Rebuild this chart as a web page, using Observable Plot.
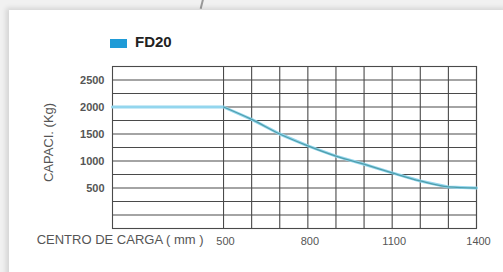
<!DOCTYPE html>
<html>
<head>
<meta charset="utf-8">
<script src="https://cdn.jsdelivr.net/npm/d3@7"></script>
<script src="https://cdn.jsdelivr.net/npm/@observablehq/plot@0.6"></script>
<style>
  html, body { margin: 0; padding: 0; width: 503px; height: 272px; overflow: hidden; background: #f1f1f1; }
  #wrap { position: relative; width: 503px; height: 272px; }
  #card { position: absolute; left: 9px; top: 10px; width: 500px; height: 270px; background: #fff;
          box-shadow: -3px -2px 5px rgba(0,0,0,0.12); }
  #slash { position: absolute; left: 201px; top: -2px; width: 2px; height: 11px; background: #9a9a9a; transform: rotate(14deg); }
  #legend { position: absolute; left: 110px; top: 33px; font-family: "Liberation Sans", Arial, sans-serif;
            font-weight: bold; font-size: 15px; color: #222; display: flex; align-items: center; }
  #legend .sw { width: 17px; height: 9px; background: #1f9bd7; margin-right: 8px; margin-top: 3px; }
  #chart { position: absolute; left: 0; top: 0; }
</style>
</head>
<body>
<div id="wrap">
  <div id="slash"></div>
  <div id="card"></div>
  <div id="legend"><div class="sw"></div><span>FD20</span></div>
  <div id="chart"></div>
</div>
<script>
// Data
const seriesName = "FD20";
const loadCenter = [105, 500, 600, 700, 800, 900, 1000, 1100, 1200, 1300, 1400];
const capacity   = [2000, 2000, 1770, 1500, 1280, 1090, 940, 780, 630, 520, 500];
const yTickLabels = [500, 1000, 1500, 2000, 2500];
const xTickLabels = [500, 800, 1100, 1400];
const xGrid = [500, 600, 700, 800, 900, 1000, 1100, 1200, 1300, 1400];
const yGrid = [-250, 0, 250, 500, 750, 1000, 1250, 1500, 1750, 2000, 2250, 2500, 2750];
const xLabel = "CENTRO DE CARGA ( mm )";
const yLabel = "CAPACI. (Kg)";

const data = loadCenter.map((x, i) => ({x, y: capacity[i]}));
const slope = data.filter(d => d.x >= 500);

const chart = Plot.plot({
  width: 503,
  height: 272,
  marginLeft: 112,
  marginRight: 27,
  marginTop: 66,
  marginBottom: 44,
  style: {fontFamily: "Liberation Sans, Arial, sans-serif", background: "transparent", color: "#555"},
  x: {domain: [105, 1400], axis: null},
  y: {domain: [-250, 2750], axis: null},
  marks: [
    Plot.ruleY(yGrid, {stroke: "#4a4a4a", strokeWidth: 1.1}),
    Plot.ruleX(xGrid, {stroke: "#4a4a4a", strokeWidth: 1.1}),
    Plot.frame({stroke: "#4a4a4a", strokeWidth: 1.1}),
    Plot.line(data, {x: "x", y: "y", stroke: "#93d6ee", strokeWidth: 3}),
    Plot.line(slope, {x: "x", y: "y", stroke: "#4f9eab", strokeWidth: 1.3, curve: "monotone-x"}),
    Plot.axisY(yTickLabels, {tickSize: 0, tickPadding: 8, fontSize: 11, fill: "#555", label: null, fontWeight: "bold", tickFormat: d => String(d)}),
    Plot.axisX(xTickLabels, {tickSize: 0, tickPadding: 9, fontSize: 11, fill: "#555", label: null, dx: 2, tickFormat: d => String(d)}),
    Plot.text([xLabel], {frameAnchor: "bottom-left", textAnchor: "end", dx: 91, dy: 15, fontSize: 13, fill: "#555"}),
    Plot.text([yLabel], {frameAnchor: "left", textAnchor: "middle", rotate: -90, dx: -64, dy: -5, fontSize: 13, fill: "#555"})
  ]
});
document.getElementById("chart").appendChild(chart);
</script>
</body>
</html>
